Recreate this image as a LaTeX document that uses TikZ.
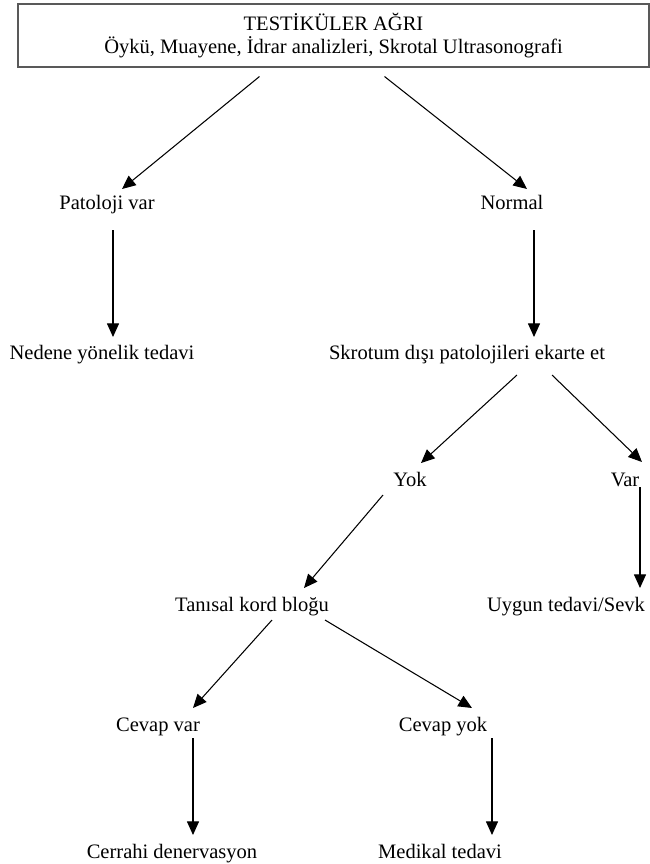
\documentclass[tikz,border=0pt]{standalone}
\usepackage{fontspec}
\setmainfont{Liberation Serif}
\usepackage{tikz}
\usetikzlibrary{arrows, arrows.meta}
\tikzstyle{arrow} = [line width=0.75pt,-{Triangle[length=0.34cm,width=0.3cm]}]
\tikzstyle{lbl} = [inner sep=0pt, text height=0.3cm, text depth=0cm, font=\fontsize{14.6}{16.3}\selectfont]
\tikzstyle{topbox} = [draw=black!65, line width=1.5pt, minimum width=15.775cm, minimum height=1.575cm, align=center, inner sep=0pt, font=\fontsize{14.6}{16.3}\selectfont]

\begin{document}
\begin{tikzpicture}[x=0.025cm, y=-0.025cm]
    \useasboundingbox (0,0) rectangle (650,864);
    \node[topbox] (agri) at (333.5,35.5) {\raisebox{-2pt}{TESTİKÜLER AĞRI}\\\raisebox{-2pt}{Öykü, Muayene, İdrar analizleri, Skrotal Ultrasonografi}};
    \node[lbl] (pat) at (107,203) {Patoloji var};
    \node[lbl] (norm) at (512,203) {Normal};
    \node[lbl] (ned) at (102,353) {Nedene yönelik tedavi};
    \node[lbl] (skr) at (467,353) {Skrotum dışı patolojileri ekarte et};
    \node[lbl] (yok) at (410,480) {Yok};
    \node[lbl] (var) at (625,480) {Var};
    \node[lbl] (tan) at (252,605) {Tanısal kord bloğu};
    \node[lbl] (uyg) at (566,605) {Uygun tedavi/Sevk};
    \node[lbl] (cvar) at (158,725) {Cevap var};
    \node[lbl] (cyok) at (443,725) {Cevap yok};
    \node[lbl] (cer) at (172,852) {Cerrahi denervasyon};
    \node[lbl] (med) at (440,852) {Medikal tedavi};
    \draw[arrow] ([shift={(-74,41)}]agri.center) -- ([shift={(15,-14)}]pat.center);
    \draw[arrow] ([shift={(51,41)}]agri.center) -- ([shift={(15,-14)}]norm.center);
    \draw[arrow] ([shift={(6,27)}]pat.center) -- ([shift={(11,-16)}]ned.center);
    \draw[arrow] ([shift={(22,27)}]norm.center) -- ([shift={(67,-16)}]skr.center);
    \draw[arrow] ([shift={(50,22)}]skr.center) -- ([shift={(11,-17)}]yok.center);
    \draw[arrow] ([shift={(85,22)}]skr.center) -- ([shift={(17,-18)}]var.center);
    \draw[arrow] ([shift={(-27,15)}]yok.center) -- ([shift={(52,-17)}]tan.center);
    \draw[arrow] ([shift={(15,7)}]var.center) -- ([shift={(74,-17)}]uyg.center);
    \draw[arrow] ([shift={(20,15)}]tan.center) -- ([shift={(35,-17)}]cvar.center);
    \draw[arrow] ([shift={(73,15)}]tan.center) -- ([shift={(29,-17)}]cyok.center);
    \draw[arrow] ([shift={(35,13)}]cvar.center) -- ([shift={(21,-17)}]cer.center);
    \draw[arrow] ([shift={(49,13)}]cyok.center) -- ([shift={(52,-17)}]med.center);
\end{tikzpicture}
\end{document}
